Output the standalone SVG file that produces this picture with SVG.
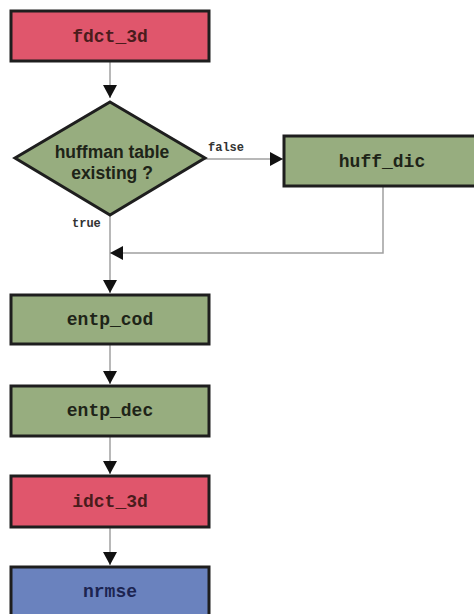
<svg xmlns="http://www.w3.org/2000/svg" width="474" height="614" viewBox="0 0 474 614">
  <style>
    .box { stroke: #1e1e1e; stroke-width: 3; }
    .red { fill: #e0566c; }
    .green { fill: #97ad7f; }
    .blue { fill: #6a82be; }
    .lbl { font-family: "Liberation Mono", "Courier New", monospace; font-weight: bold; font-size: 18px; text-anchor: middle; }
    .dia { font-family: "Liberation Sans", Arial, sans-serif; font-weight: bold; font-size: 17.5px; text-anchor: middle; fill: #1e2418; }
    .small { font-family: "Liberation Mono", "Courier New", monospace; font-weight: bold; font-size: 12px; fill: #333; }
    .conn { stroke: #a0a0a0; stroke-width: 1.5; fill: none; }
  </style>
  <defs>
    <marker id="arr" markerUnits="userSpaceOnUse" markerWidth="14" markerHeight="14" refX="13" refY="7" orient="auto">
      <path d="M0,0 L13,7 L0,14 Z" fill="#111"/>
    </marker>
  </defs>
  <rect width="474" height="614" fill="#ffffff"/>

  <g id="connectors">
    <line class="conn" x1="110" y1="62" x2="110" y2="98" marker-end="url(#arr)"/>
    <line class="conn" x1="205" y1="159" x2="283" y2="159" marker-end="url(#arr)"/>
    <line class="conn" x1="110" y1="215" x2="110" y2="293" marker-end="url(#arr)"/>
    <polyline class="conn" points="383,187 383,253 110,253" marker-end="url(#arr)"/>
    <line class="conn" x1="110" y1="345" x2="110" y2="384" marker-end="url(#arr)"/>
    <line class="conn" x1="110" y1="437" x2="110" y2="474" marker-end="url(#arr)"/>
    <line class="conn" x1="110" y1="528" x2="110" y2="565" marker-end="url(#arr)"/>
    <text class="small" x="208" y="151">false</text>
    <text class="small" x="72" y="227">true</text>
  </g>

  <g id="fdct_3d">
    <rect class="box red" x="11" y="11" width="198" height="50"/>
    <text class="lbl" x="110" y="42" fill="#4a1c1c">fdct_3d</text>
  </g>

  <g id="huffman_table">
    <polygon class="box green" points="110,102 205,158 110,215 15,158"/>
    <text class="dia" x="112" y="158">huffman table</text>
    <text class="dia" x="112" y="179">existing ?</text>
  </g>

  <g id="huff_dic">
    <rect class="box green" x="284" y="136" width="200" height="50"/>
    <text class="lbl" x="382" y="167" fill="#1e2418">huff_dic</text>
  </g>

  <g id="entp_cod">
    <rect class="box green" x="11" y="295" width="198" height="49"/>
    <text class="lbl" x="110" y="325" fill="#1e2418">entp_cod</text>
  </g>

  <g id="entp_dec">
    <rect class="box green" x="11" y="386" width="198" height="50"/>
    <text class="lbl" x="110" y="416" fill="#1e2418">entp_dec</text>
  </g>

  <g id="idct_3d">
    <rect class="box red" x="11" y="476" width="198" height="51"/>
    <text class="lbl" x="110" y="507" fill="#4a1c1c">idct_3d</text>
  </g>

  <g id="nrmse">
    <rect class="box blue" x="11" y="567" width="198" height="52"/>
    <text class="lbl" x="110" y="597" fill="#1c2450">nrmse</text>
  </g>
</svg>
